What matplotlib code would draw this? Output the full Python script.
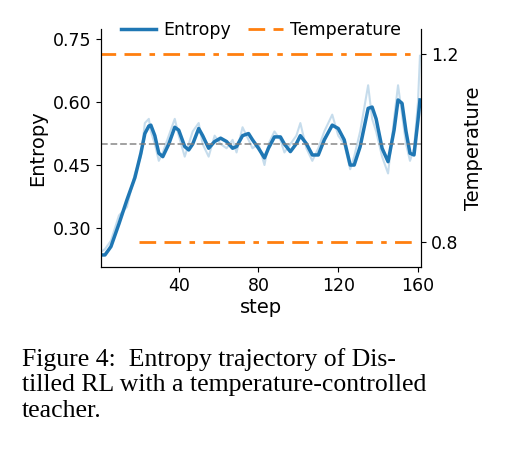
import matplotlib
matplotlib.use("Agg")
import matplotlib.pyplot as plt
import numpy as np

steps = [0,3,6,10,14,18,21,23,25,26,28,30,32,35,38,40,43,45,47,50,52,55,58,61,64,67,69,72,75,77,80,83,85,88,91,93,96,99,101,104,107,110,113,117,120,123,126,128,131,135,137,139,142,145,148,150,152,154,156,158,160,161]
entropy = [0.236,0.236,0.256,0.31,0.367,0.42,0.478,0.525,0.543,0.545,0.52,0.478,0.47,0.50,0.54,0.533,0.494,0.486,0.5,0.537,0.52,0.49,0.506,0.514,0.506,0.49,0.494,0.52,0.525,0.51,0.49,0.467,0.49,0.517,0.517,0.5,0.482,0.501,0.52,0.501,0.474,0.474,0.51,0.545,0.537,0.51,0.45,0.45,0.494,0.585,0.588,0.56,0.49,0.458,0.533,0.605,0.597,0.53,0.478,0.474,0.557,0.605]
raw_entropy = [0.24,0.25,0.27,0.33,0.35,0.43,0.47,0.55,0.56,0.53,0.50,0.46,0.48,0.52,0.56,0.52,0.47,0.50,0.53,0.55,0.50,0.47,0.52,0.50,0.49,0.51,0.48,0.54,0.51,0.49,0.50,0.45,0.50,0.53,0.51,0.48,0.50,0.52,0.55,0.49,0.46,0.49,0.53,0.57,0.52,0.50,0.44,0.47,0.53,0.64,0.56,0.53,0.47,0.43,0.56,0.64,0.57,0.50,0.46,0.49,0.60,0.71]
temp_high_x = [0,160]
temp_high = [1.2,1.2]
temp_low_x = [20,160]
temp_low = [0.8,0.8]

fig = plt.figure(figsize=(5.14,4.67), dpi=100)
ax = fig.add_axes([0.1965,0.428,0.6225,0.51])
ax.plot(steps, raw_entropy, color='#1f77b4', alpha=0.25, lw=1.5)
l1, = ax.plot(steps, entropy, color='#1f77b4', lw=2.5, label='Entropy')
ax.axhline(0.5, color='gray', ls='--', lw=1.3, alpha=0.8)
ax.set_xlim(1,161.5)
ax.set_ylim(0.207,0.774)
ax.set_xticks([40,80,120,160])
ax.set_yticks([0.30,0.45,0.60,0.75])
ax.set_yticklabels(['0.30','0.45','0.60','0.75'])
ax.set_xlabel('step', fontsize=14, labelpad=2)
ax.set_ylabel('Entropy', fontsize=14)
ax.tick_params(labelsize=12.5)
ax.spines['top'].set_visible(False)
ax2 = ax.twinx()
l2, = ax2.plot(temp_high_x, temp_high, color='#ff7f0e', lw=2, ls=(0,(6,3,6,3,2,3)), label='Temperature')
ax2.plot(temp_low_x, temp_low, color='#ff7f0e', lw=2, ls=(0,(6,3,6,3,2,3)))
ax2.set_ylim(0.747,1.253)
ax2.set_yticks([0.8,1.2])
ax2.set_ylabel('Temperature', fontsize=14)
ax2.tick_params(labelsize=12.5)
ax2.spines['top'].set_visible(False)
ax.legend(handles=[l1,l2], loc='upper center', bbox_to_anchor=(0.5,1.07), ncol=2, frameon=False,
          fontsize=12.5, handlelength=2, columnspacing=1, borderpad=0, handletextpad=0.4)
fig.text(0.043, 0.255, "Figure 4:  Entropy trajectory of Dis-\ntilled RL with a temperature-controlled\nteacher.",
         fontsize=18.5, family='Liberation Serif', va='top', ha='left', linespacing=1.2)
fig.savefig('out.png', dpi=100)
